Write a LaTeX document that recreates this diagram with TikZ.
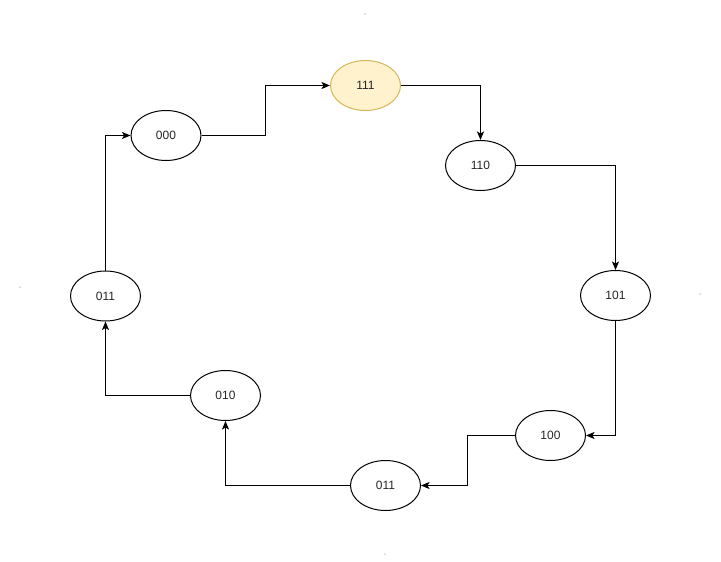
\documentclass[tikz,border=0pt]{standalone}
\usepackage{fontspec}
\setmainfont{Liberation Sans}
\usetikzlibrary{shapes.geometric,arrows.meta}
\definecolor{yfill}{HTML}{FFF2CC}
\definecolor{ystroke}{HTML}{D6B656}
\definecolor{txt}{HTML}{262626}
\tikzset{
  state/.style={ellipse,draw=black,line width=1pt,minimum width=70pt,minimum height=50pt,inner sep=0pt,fill=white,font=\fontsize{12}{14}\selectfont,text=txt},
  hot/.style={state,draw=ystroke,fill=yfill},
  link/.style={line width=1pt,-{Stealth[length=8.5pt,width=7pt,inset=2pt]}},
  speck/.style={circle,fill=gray!60,inner sep=0pt,minimum size=1.5pt}
}
\begin{document}
\begin{tikzpicture}[x=1pt,y=-1pt]
\fill[white] (0,0) rectangle (721,562);
\useasboundingbox (0,0) rectangle (721,562);
\node[state] (s000) at (166,135.5) {000};
\node[hot]   (s111) at (365.5,85.5) {111};
\node[state] (s110) at (480.5,165.5) {110};
\node[state] (s101) at (615.5,295.5) {101};
\node[state] (s100) at (550.5,435.5) {100};
\node[state] (s011b) at (385.5,485.5) {011};
\node[state] (s010) at (225.5,395.5) {010};
\node[state] (s011l) at (105.5,296) {011};
\node[speck] (d1) at (365,14) {};
\node[speck] (d2) at (20,287) {};
\node[speck] (d3) at (700,294) {};
\node[speck] (d4) at (385,554) {};
\draw[link] (s000.east) -- (265.5,135.5) -- (265.5,85.5) -- (s111.west);
\draw[link] (s111.east) -| (s110.north);
\draw[link] (s110.east) -| (s101.north);
\draw[link] (s101.south) |- (s100.east);
\draw[link] (s100.west) -- (467.5,435.5) -- (467.5,485.5) -- (s011b.east);
\draw[link] (s011b.west) -| (s010.south);
\draw[link] (s010.west) -| (s011l.south);
\draw[link] (s011l.north) |- (s000.west);
\end{tikzpicture}
\end{document}
